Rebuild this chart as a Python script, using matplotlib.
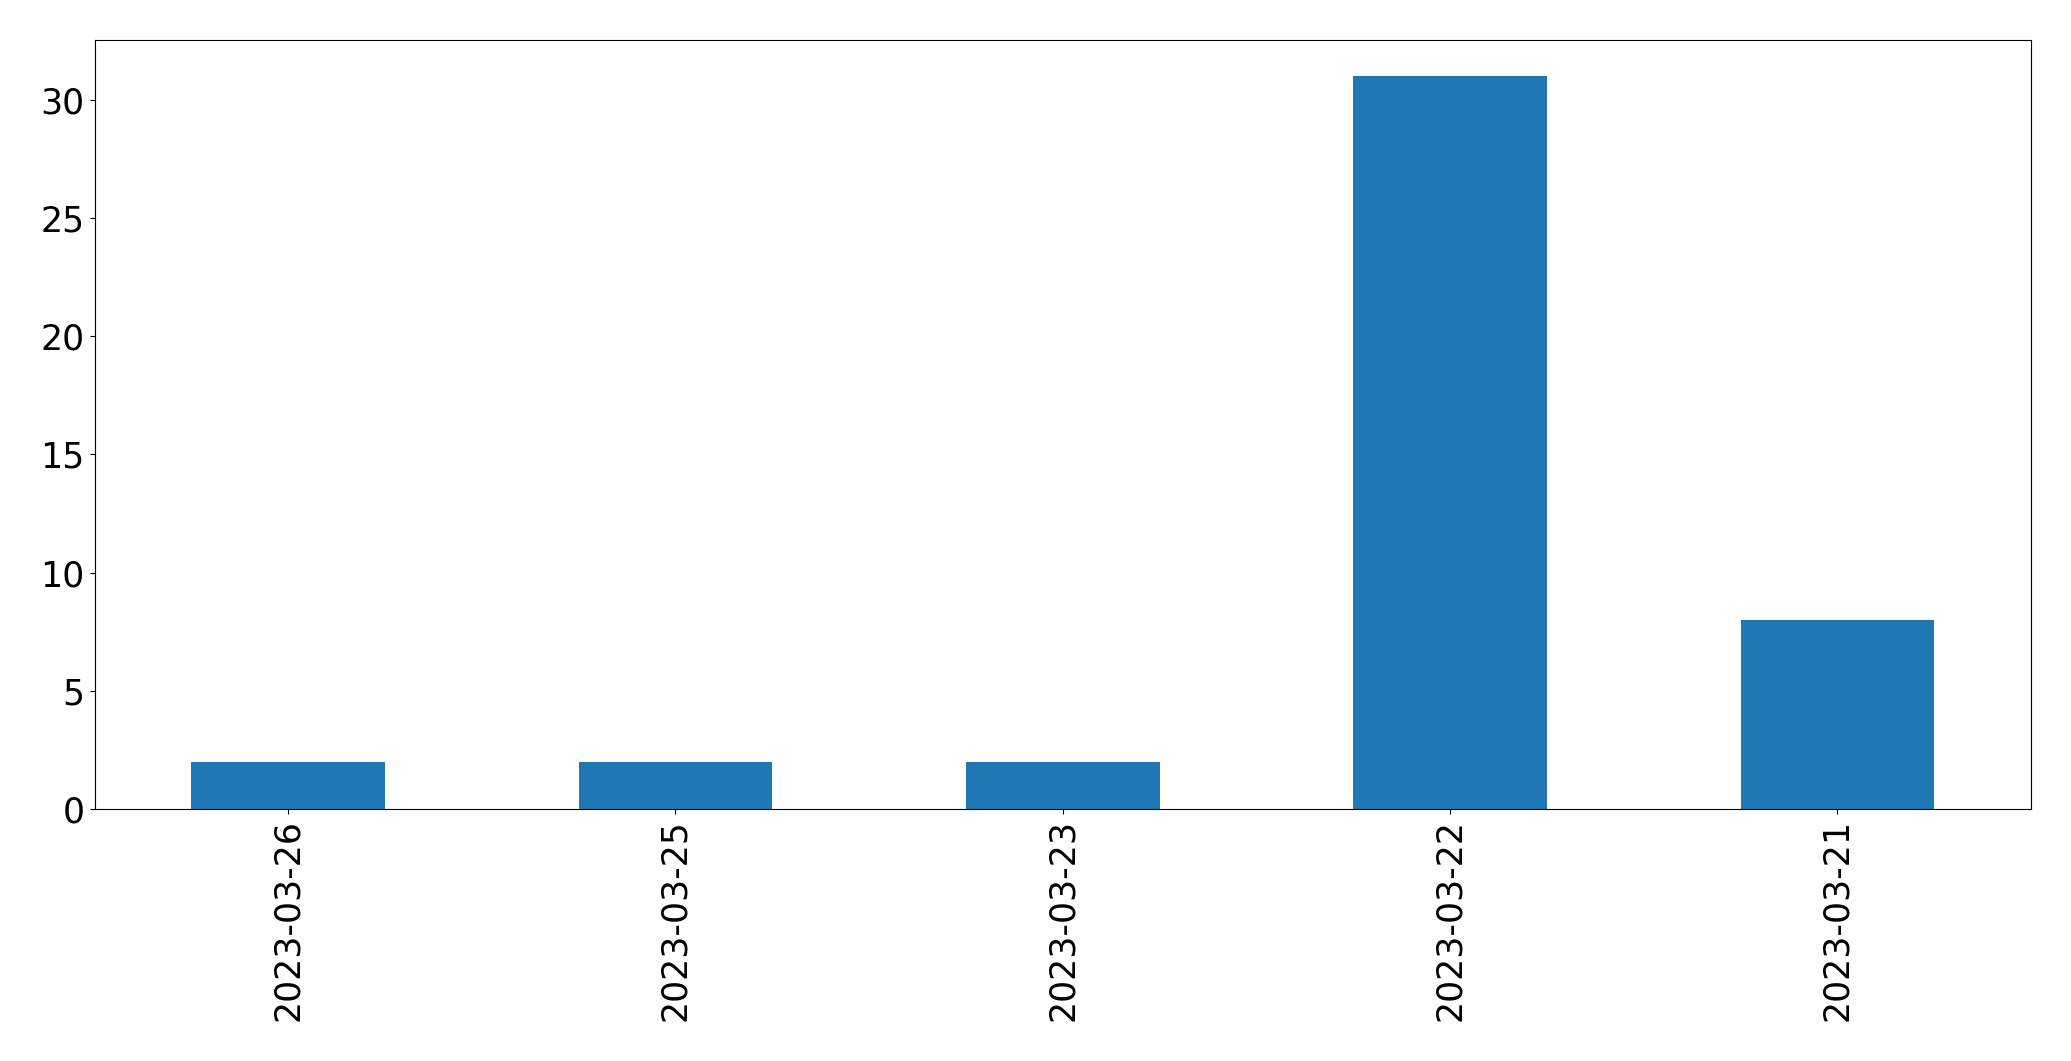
import matplotlib
matplotlib.use("Agg")
import matplotlib.pyplot as plt

# counts per day
dates = ["2023-03-26", "2023-03-25", "2023-03-23", "2023-03-22", "2023-03-21"]
counts = [2, 2, 2, 31, 8]

fig = plt.figure(figsize=(20.71, 10.61), dpi=100)
ax = fig.add_axes([94.5 / 2071, 1 - 809 / 1061, (2031 - 94.5) / 2071, (809 - 39.5) / 1061])

x = range(len(dates))
ax.bar(x, counts, width=0.5, color="#1f77b4")
ax.set_xlim(-0.5, len(dates) - 0.5)
ax.set_xticks(list(x))
ax.set_xticklabels(dates, rotation=90)
ax.tick_params(labelsize=25)

fig.savefig("out.png", dpi=100)
